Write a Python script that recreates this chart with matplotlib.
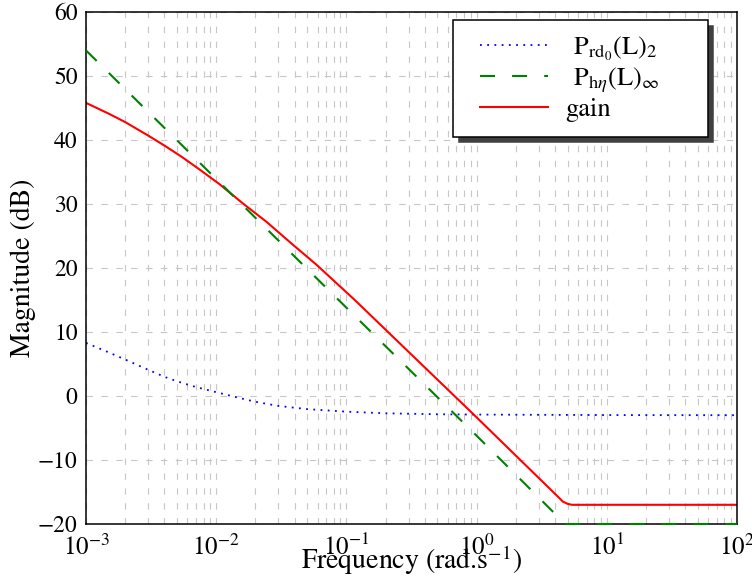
import matplotlib
matplotlib.use('Agg')
import matplotlib.pyplot as plt
from matplotlib.lines import Line2D
from matplotlib.legend_handler import HandlerLine2D

plt.rcParams['font.family'] = 'STIXGeneral'
plt.rcParams['mathtext.fontset'] = 'stix'
plt.rcParams['font.size'] = 17

# (rad/s, dB)
w_rd0 = [1e-3, 1.5e-3, 2e-3, 3e-3, 4e-3, 5e-3, 7e-3, 1e-2, 1.5e-2, 2e-2, 3e-2, 5e-2,
         1e-1, 2e-1, 5e-1, 1.0, 10.0, 100.0]
mag_rd0 = [8.3, 6.8, 5.7, 4.1, 3.0, 2.3, 1.4, 0.6, -0.3, -0.9, -1.55, -2.05,
           -2.45, -2.7, -2.85, -2.9, -2.98, -3.0]

w_heta = [1e-3, 1e-2, 1e-1, 1.0, 4.8, 100.0]
mag_heta = [54.0, 33.9, 13.8, -6.2, -20.0, -20.0]

w_gain = [1e-3, 1.5e-3, 2e-3, 3e-3, 4.1e-3, 5.5e-3, 7.5e-3, 1.06e-2, 1.6e-2, 2.44e-2, 3.8e-2,
          5.9e-2, 0.116, 0.29, 0.94, 4.3, 4.6, 5.0, 5.4, 100.0]
mag_gain = [45.8, 44.1, 42.8, 40.7, 39.0, 37.3, 35.35, 33.1, 30.1, 27.2, 23.8,
            20.5, 15.0, 7.2, -2.8, -15.9, -16.5, -16.85, -17.0, -17.0]

fig = plt.figure(figsize=(7.52, 5.81), dpi=100)
ax = fig.add_axes([0.1144, 0.0981, 0.8656, 0.8812])

ax.plot(w_rd0, mag_rd0, c='blue', lw=1.3, ls=(0, (1, 3)),
        label=r'$\;\,\mathrm{P}_{\mathrm{rd}_0}\mathrm{(L)}_2$')
ax.plot(w_heta, mag_heta, c='green', lw=1.5, ls=(0, (7.2, 8.2)), clip_on=False, zorder=3,
        label=r'$\;\,\mathrm{P}_{\mathrm{h}\eta}\mathrm{(L)}_\infty$')
ax.plot(w_gain, mag_gain, c='red', lw=1.5, label='gain')

ax.set_xscale('log')
ax.set_xlim(1e-3, 1e2)
ax.set_ylim(-20, 60)
ax.set_yticks(range(-20, 61, 10))

ax.grid(which='both', color='0.78', lw=0.8, ls=(0, (5.8, 7.6)))
ax.tick_params(which='both', length=0)
ax.tick_params(axis='x', pad=8, labelsize=18)
ax.tick_params(axis='y', pad=6, labelsize=17)
for s in ax.spines.values():
    s.set_linewidth(1.1)

ax.set_xlabel(r'Frequency (rad.s$^{-1}$)', fontsize=20)
ax.set_ylabel('Magnitude (dB)', fontsize=20)
ax.xaxis.set_label_coords(0.5, -0.037)
ax.yaxis.set_label_coords(-0.077, 0.5)

# legend box as wide as in the reference, handles pushed in a bit from the left edge
leg = ax.legend(loc='upper left', bbox_to_anchor=(0.5637, 0.761, 0.3917, 0.223), mode='expand',
                fancybox=False, edgecolor='black', framealpha=1, borderaxespad=0, fontsize=19,
                handlelength=3.05, handletextpad=0.64, labelspacing=0.1, borderpad=0.55,
                handler_map={Line2D: HandlerLine2D(xpad=0.47)},
                shadow={'ox': 4, 'oy': -4, 'color': '0.25', 'alpha': 1})
leg.get_frame().set_linewidth(1.1)

fig.savefig('out.png', dpi=100)
